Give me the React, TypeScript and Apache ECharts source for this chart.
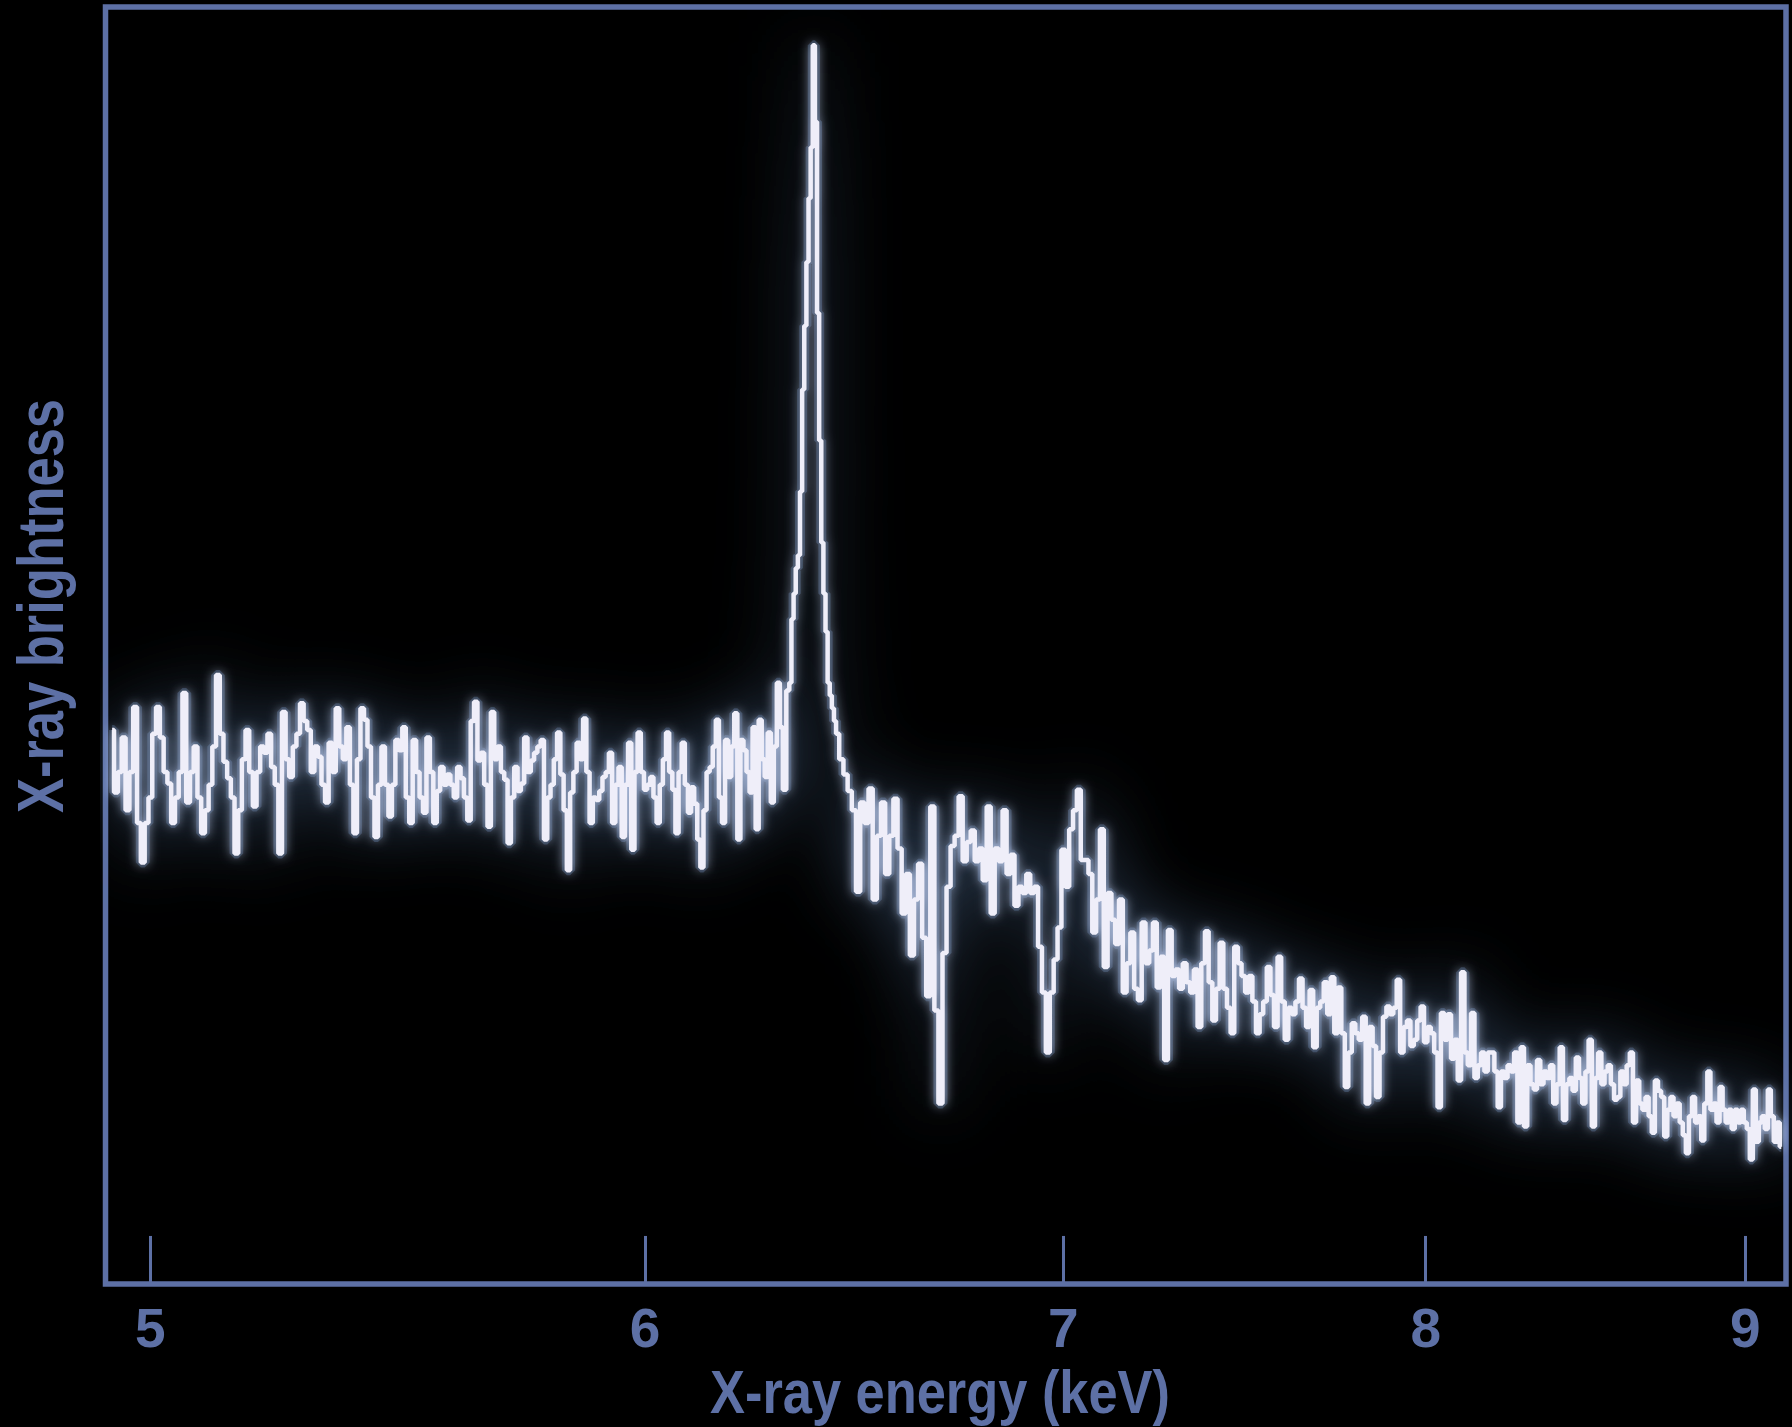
import React, { useEffect, useRef } from "react";
import * as echarts from "echarts";

// ---- Data (energies in keV, brightness in arbitrary units) ----
const LOW_START = 4.93;
const LOW_STEP = 0.007;
const lowBand = [
  43.3, 38.4, 40, 42.7, 37, 40, 45.1, 36, 32.9, 36,
  38, 43, 45.1, 42.7, 40, 39.1, 36, 38, 40, 46.2,
  37.6, 40, 42, 38, 35.2, 37, 39, 42, 47.6, 43,
  40.8, 39.5, 38, 33.6, 37, 41, 43.3, 40, 37.3, 40,
  42, 41.5, 43, 40.4, 39, 33.6, 44.7, 41, 39.6, 42,
  43, 45.4, 44, 43.3, 40, 42, 41.2, 39, 37.6, 42.3,
  40, 45, 42, 41, 43.5, 39, 35.2, 41, 45, 44.1,
  42, 38, 34.9, 39, 42, 39, 36.5, 39, 42.5, 41.7,
  43.5, 38, 36, 42.5, 40, 38, 36.8, 42.7, 40, 36,
  38.5, 40.4, 39, 39.8, 39, 38, 40.4, 39.5, 38, 36.2,
  44, 45.5, 40.9, 41.5, 39, 35.7, 44.7, 41, 42, 40,
  39.4, 34.4, 38, 40.4, 38.5, 39.1, 42.7, 40, 40.9, 41.5,
  42, 42.5, 34.7, 38, 39, 41, 43.1, 39.8, 37, 32.3,
  38.4, 40, 42.3, 41, 44.2, 40, 36, 38, 37.8, 38.5,
  39.6, 40, 41.5, 36, 39, 40.4, 34.9, 39, 42.3, 33.9,
  40, 43.1, 40, 38.6, 39, 39.6, 38, 36, 39, 41,
  43.1, 40, 38.6, 35.2, 40, 42.3, 39, 36.8, 38.8, 37.5,
  34.7, 32.5, 37, 40, 40.4, 42, 44.1, 38, 36, 42.5,
  39.6, 42, 44.6, 34.7, 42.5, 41.7, 40, 38.4, 43.5, 35.5,
  44.1, 41, 39.6, 43.1, 37.6, 42, 47, 43.5, 38.6,
];

const PEAK_START = 6.325;
const PEAK_STEP = 0.005;
const peakBand = [
  46.4, 47, 52, 54, 56, 57, 62, 70, 75, 80, 85, 89,
  97, 91, 76, 66, 58, 54, 51, 47, 46, 45, 44, 43,
];

const HIGH_START = 6.45;
const HIGH_STEP = 0.01;
const highBand = [
  41, 39.8, 38.5, 37, 30.6, 37.6, 36, 38.7, 30, 35,
  37.6, 32, 35, 37.9, 34, 28.9, 32, 25.6, 30, 32.8,
  27, 22.4, 37.3, 21.3, 14, 25.8, 31, 34.2, 35, 38.1,
  33, 34.5, 35.4, 33, 34, 31.5, 37.3, 28.9, 34, 33,
  37, 32, 33.5, 29.5, 31, 30.5, 32, 30.5, 31, 26.3,
  22.7, 18, 22.7, 25.3, 27.8, 33.9, 31, 35.5, 37, 38.6,
  33.1, 33.1, 32, 27.4, 30, 35.5, 24.7, 30.5, 28.4, 26.5,
  30, 22.7, 25, 27.4, 23, 22.1, 28.2, 25, 26, 28.2,
  23.1, 25.5, 17.4, 27.6, 24, 24.5, 23, 25, 23.5, 22.7,
  24.5, 20, 25, 27.5, 23.5, 20.5, 23, 26.6, 23, 21.5,
  19.5, 26.3, 25, 24, 22.7, 24, 22, 19.5, 21, 22,
  24.7, 22.5, 20, 25.5, 22, 19, 21.5, 21, 22, 23.8,
  21.5, 20, 22.9, 18.4, 21.5, 22, 23.5, 21, 23.9, 19.5,
  23.1, 19.5, 15.3, 18, 20.3, 19.5, 19, 20.8, 14, 20,
  18.5, 14.5, 18, 20.8, 21.6, 21, 21.5, 23.7, 18, 20,
  20.5, 18.5, 19, 20.5, 21.6, 18.8, 20, 19.5, 18, 13.7,
  21.1, 19, 21, 17.5, 19, 15.8, 24.3, 18, 17, 21.1,
  16, 17, 18, 16.5, 18, 18, 16.5, 13.7, 16.5, 16,
  17, 16.5, 18, 12.5, 18.4, 12.2, 17, 15.5, 15.1, 17.4,
  15.5, 16.5, 16, 17, 14, 15.5, 18.4, 12.7, 15.5, 16,
  15, 17.6, 16, 14, 16.5, 19, 12.2, 16, 18, 15.5,
  16.5, 17, 15.5, 14.3, 14.5, 16.5, 15.5, 17, 18, 12.5,
  15.8, 14, 13.5, 14.5, 13, 11.7, 15.8, 15, 14.5, 11.4,
  13.5, 14.5, 13, 14, 12.5, 11.5, 10.1, 13, 14.5, 12.5,
  13, 11.1, 14, 16.5, 13.5, 14, 12.5, 15.3, 13.5, 12.5,
  13.5, 12, 13.5, 12.5, 13.5, 12.5, 12, 9.6, 15.1, 11,
  12.5, 13, 12, 15.1, 13, 11, 12.5, 10.6,
];

const tickEnergies = [5, 6, 7, 8, 9];
const X_MIN_KEV = 4.918;
const X_MAX_KEV = 9.136;
const Y_MIN = -0.16;
const Y_MAX = 100;
const xTitle = "X-ray energy (keV)";
const yTitle = "X-ray brightness";

// ---- Styling ----
const AXIS_COLOR = "#5d70a5";
const FONT = '"Liberation Sans", Arial, sans-serif';

function bandPoints(start: number, step: number, values: number[]) {
  return values.map((v, i) => {
    const e = +(start + i * step).toFixed(4);
    return [Math.log10(e), v];
  });
}

export default function App() {
  const ref = useRef<HTMLDivElement>(null);

  useEffect(() => {
    document.body.style.margin = "0";
    document.body.style.background = "#000";
    if (!ref.current) return;
    const chart = echarts.init(ref.current, undefined, { renderer: "svg" });

    const points = [
      ...bandPoints(LOW_START, LOW_STEP, lowBand),
      ...bandPoints(PEAK_START, PEAK_STEP, peakBand),
      ...bandPoints(HIGH_START, HIGH_STEP, highBand),
    ];
    const tickPos = tickEnergies.map((e) => Math.log10(e));

    chart.setOption({
      animation: false,
      backgroundColor: "#000000",
      grid: {
        left: 105.5,
        top: 7,
        width: 1680.5,
        height: 1277,
        show: true,
        borderColor: AXIS_COLOR,
        borderWidth: 5.5,
        backgroundColor: "transparent",
      },
      xAxis: {
        type: "value",
        min: Math.log10(X_MIN_KEV),
        max: Math.log10(X_MAX_KEV),
        axisLine: { show: false },
        splitLine: { show: false },
        axisTick: {
          show: true,
          inside: true,
          length: 46,
          customValues: tickPos,
          lineStyle: { color: AXIS_COLOR, width: 3 },
        },
        axisLabel: {
          customValues: tickPos,
          formatter: (v: number) => String(Math.round(Math.pow(10, v))),
          color: AXIS_COLOR,
          fontSize: 55,
          fontWeight: "bold",
          fontFamily: FONT,
          margin: 16,
        },
      },
      yAxis: {
        type: "value",
        min: Y_MIN,
        max: Y_MAX,
        show: false,
      },
      graphic: [
        {
          type: "text",
          x: 940,
          y: 1391,
          scaleX: 0.845,
          style: {
            text: xTitle,
            fill: AXIS_COLOR,
            fontSize: 62,
            fontWeight: "bold",
            fontFamily: FONT,
            align: "center",
            verticalAlign: "middle",
            textAlign: "center",
            textVerticalAlign: "middle",
          },
        },
        {
          type: "text",
          x: 41,
          y: 606,
          rotation: Math.PI / 2,
          scaleX: 0.82,
          style: {
            text: yTitle,
            fill: AXIS_COLOR,
            fontSize: 64,
            fontWeight: "bold",
            fontFamily: FONT,
            align: "center",
            verticalAlign: "middle",
            textAlign: "center",
            textVerticalAlign: "middle",
          },
        },
      ],
      series: [
        {
          name: "glow",
          type: "line",
          data: points,
          step: "middle",
          symbol: "none",
          silent: true,
          lineStyle: {
            width: 10,
            color: "rgba(70,95,130,0.45)",
            shadowBlur: 70,
            shadowColor: "rgba(105,145,195,1)",
          },
          z: 2,
        },
        {
          name: "spectrum",
          type: "line",
          data: points,
          step: "middle",
          symbol: "none",
          silent: true,
          lineStyle: {
            width: 4.5,
            color: "#efeef9",
            shadowBlur: 12,
            shadowColor: "rgba(205,220,255,0.85)",
          },
          z: 3,
        },
      ],
    });

    return () => chart.dispose();
  }, []);

  return <div ref={ref} style={{ width: 1792, height: 1427 }} />;
}
